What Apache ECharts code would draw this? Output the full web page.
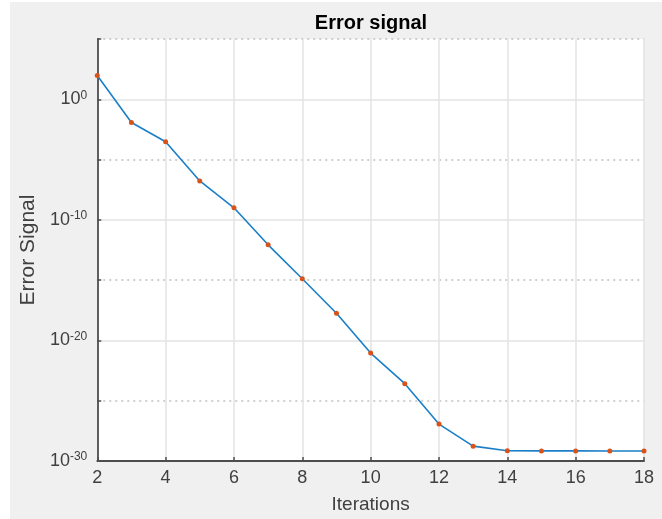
<!DOCTYPE html>
<html>
<head>
<meta charset="utf-8">
<script src="https://cdn.jsdelivr.net/npm/echarts@6/dist/echarts.min.js"></script>
<style>
html,body{margin:0;padding:0;background:#ffffff;}
#c{position:absolute;left:10px;top:2px;width:652px;height:517px;background:#f0f0f0;}
</style>
</head>
<body>
<div id="c"></div>
<script>
// Data
const iterations = [2, 3, 4, 5, 6, 7, 8, 9, 10, 11, 12, 13, 14, 15, 16, 17, 18];
const errorValues = [95, 1.2e-2, 3e-4, 1.7e-7, 1e-9, 8.5e-13, 1.3e-15, 1.8e-18, 9e-22, 2.6e-24, 1.15e-27, 1.7e-29, 7e-30, 6.9e-30, 6.9e-30, 6.8e-30, 6.8e-30];
const xTicks = [2, 4, 6, 8, 10, 12, 14, 16, 18];
// Decade exponents of the y axis (ECharts' log scale cannot reach 1e-30, so the axis is drawn in decades)
const yMinExponent = -30;
const yMaxExponent = 5;
const yMajorExponents = [0, -10, -20, -30];

const chart = echarts.init(document.getElementById('c'), null, {renderer: 'canvas'});
const FONT = '"Liberation Sans", Arial, Helvetica, sans-serif';
const data = iterations.map((x, i) => [x, Math.log10(errorValues[i])]);

chart.setOption({
  animation: false,
  backgroundColor: '#f0f0f0',
  title: {
    text: 'Error signal',
    left: 356,
    top: 6,
    textAlign: 'center',
    textStyle: {fontFamily: FONT, fontSize: 20, fontWeight: 'bold', color: '#000000'}
  },
  grid: {left: 87, right: 18, top: 37, bottom: 56, show: true, backgroundColor: '#ffffff', borderWidth: 0},
  xAxis: {
    type: 'value',
    min: xTicks[0],
    max: xTicks[xTicks.length - 1],
    interval: 2,
    name: 'Iterations',
    nameLocation: 'middle',
    nameGap: 34,
    nameTextStyle: {fontFamily: FONT, fontSize: 19, color: '#404040'},
    axisLine: {show: true, onZero: false, lineStyle: {color: '#4d4d4d', width: 1.8}},
    axisTick: {show: true, inside: true, length: 4, lineStyle: {color: '#4d4d4d', width: 1.5}},
    axisLabel: {fontFamily: FONT, fontSize: 18, color: '#404040', margin: 8},
    splitLine: {show: true, showMinLine: false, lineStyle: {color: '#e3e3e3', width: 1.5}}
  },
  yAxis: [
    {
      type: 'value',
      min: yMinExponent,
      max: yMaxExponent,
      interval: 10,
      position: 'left',
      name: 'Error Signal',
      nameLocation: 'middle',
      nameGap: 57,
      nameTextStyle: {fontFamily: FONT, fontSize: 21, color: '#404040'},
      axisLine: {show: true, onZero: false, lineStyle: {color: '#4d4d4d', width: 1.8}},
      axisTick: {show: false},
      splitLine: {show: true, showMinLine: false, showMaxLine: false, lineStyle: {color: '#e3e3e3', width: 1.5}},
      axisLabel: {
        margin: 10,
        showMaxLabel: false,
        formatter: function (e) {
          if (yMajorExponents.indexOf(e) < 0) return '';
          return '{b|10}{s|' + e + '}';
        },
        rich: {
          b: {fontFamily: FONT, fontSize: 18, color: '#404040', lineHeight: 20},
          s: {fontFamily: FONT, fontSize: 12, color: '#404040', verticalAlign: 'top', lineHeight: 13}
        }
      }
    },
    {
      type: 'value',
      min: yMinExponent,
      max: yMaxExponent,
      interval: 5,
      position: 'left',
      axisLine: {show: false},
      axisTick: {show: true, inside: true, length: 4, lineStyle: {color: '#4d4d4d', width: 1.5}},
      axisLabel: {show: false},
      splitLine: {show: true, lineStyle: {color: ['rgba(0,0,0,0)', '#c0c0c0'], width: 1.5, type: [2, 4]}}
    }
  ],
  series: [{
    type: 'line',
    data: data,
    yAxisIndex: 0,
    symbol: 'circle',
    symbolSize: 5,
    showSymbol: true,
    itemStyle: {color: '#D95319'},
    lineStyle: {color: '#1a7fc8', width: 1.6},
    z: 5
  }]
});
</script>
</body>
</html>
